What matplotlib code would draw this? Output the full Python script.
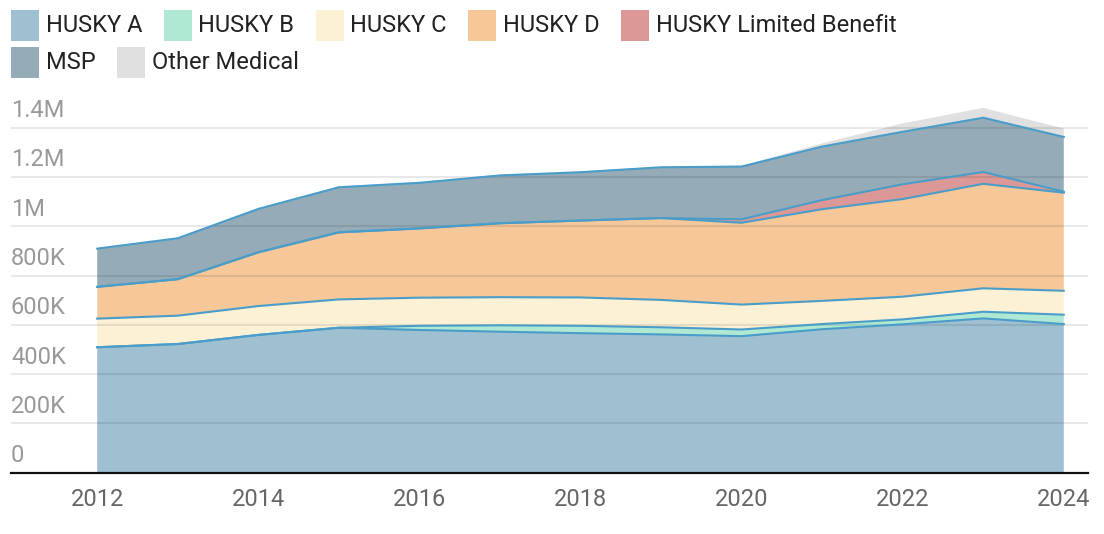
import numpy as np
import matplotlib
matplotlib.use("Agg")
import matplotlib.pyplot as plt
from matplotlib.patches import Rectangle
from matplotlib.transforms import blended_transform_factory

plt.rcParams['font.family'] = ['Roboto', 'DejaVu Sans']

# enrollment by program, in thousands
years = [2012, 2013, 2014, 2015, 2016, 2017, 2018, 2019, 2020, 2021, 2022, 2023, 2024]
husky_a = [509, 522, 559, 588, 579, 572, 566, 561, 554, 582, 602, 626, 603]
husky_b = [0, 0, 0, 0, 17, 26, 30, 29, 27, 21, 20, 27, 38]
husky_c = [116, 115, 117, 115, 114, 114, 115, 111, 101, 94, 92, 95, 97]
husky_d = [129, 148, 218, 272, 281, 300, 312, 332, 332, 372, 396, 424, 398]
husky_lb = [0, 0, 0, 0, 0, 0, 0, 0, 14, 37, 60, 48, 4]
msp = [155, 166, 176, 183, 185, 194, 196, 206, 214, 217, 213, 220, 222]
other_med = [3, 3, 3, 3, 3, 3, 3, 3, 3, 13, 34, 40, 34]

labels = ["HUSKY A", "HUSKY B", "HUSKY C", "HUSKY D", "HUSKY Limited Benefit",
          "MSP", "Other Medical"]
colors = ["#9fc0d1", "#b0e9d3", "#fcf1d4", "#f5c799", "#dc9896", "#95acb8", "#e0e0e0"]

yticks = [0, 200, 400, 600, 800, 1000, 1200, 1400]
ytick_labels = ["0", "200K", "400K", "600K", "800K", "1M", "1.2M", "1.4M"]
xticks = [2012, 2014, 2016, 2018, 2020, 2022, 2024]

series = [husky_a, husky_b, husky_c, husky_d, husky_lb, msp, other_med]
vals = np.array(series, dtype=float) * 1000

fig = plt.figure(figsize=(11.04, 5.34), dpi=100)
ax = fig.add_axes([0.00996, 0.1148, 0.9755, 0.6924])

ax.stackplot(years, vals, colors=colors, linewidth=0, zorder=1)
tops = np.cumsum(vals, axis=0)
for i in range(len(series) - 1):
    ax.plot(years, tops[i], color="#4a9dc9", linewidth=1.5, zorder=3,
            solid_joinstyle='round')

ax.set_xlim(2010.93, 2024.3)
ax.set_ylim(0, 1500000)

# gridlines sit on top of the areas, faintly
for v in yticks[1:]:
    ax.axhline(v * 1000, color="black", alpha=0.09, linewidth=1.5, zorder=2)

trans = blended_transform_factory(ax.transAxes, ax.transData)
for v, lab in zip(yticks, ytick_labels):
    ax.annotate(lab, xy=(0, v * 1000), xycoords=trans, xytext=(0, 7.5),
                textcoords="offset points", ha="left", va="baseline",
                fontsize=17, color="#999999")

ax.set_yticks([])
ax.set_xticks(xticks)
ax.set_xticklabels([str(x) for x in xticks], fontsize=17, color="#666666")
ax.tick_params(axis='x', length=0, pad=11)

for s in ["top", "right", "left"]:
    ax.spines[s].set_visible(False)
ax.spines["bottom"].set_color("#111111")
ax.spines["bottom"].set_linewidth(1.6)
ax.spines["bottom"].set_zorder(4)

# legend drawn by hand, two rows
W, H = 1104, 534
renderer = fig.canvas.get_renderer()
rows = [labels[:5], labels[5:]]
row_cy = [25.5, 62.5]
k = 0
for r, row in enumerate(rows):
    cx = 11
    for lab in row:
        cy = row_cy[r]
        fig.add_artist(Rectangle((cx / W, 1 - (cy + 15) / H), 28 / W, 30 / H,
                                 transform=fig.transFigure, color=colors[k],
                                 linewidth=0))
        t = fig.text((cx + 35) / W, 1 - cy / H, lab, fontsize=17, color="#222222",
                     ha="left", va="center")
        w = t.get_window_extent(renderer).width
        cx = cx + 35 + w + 21
        k += 1

fig.savefig("out.png", dpi=100)
